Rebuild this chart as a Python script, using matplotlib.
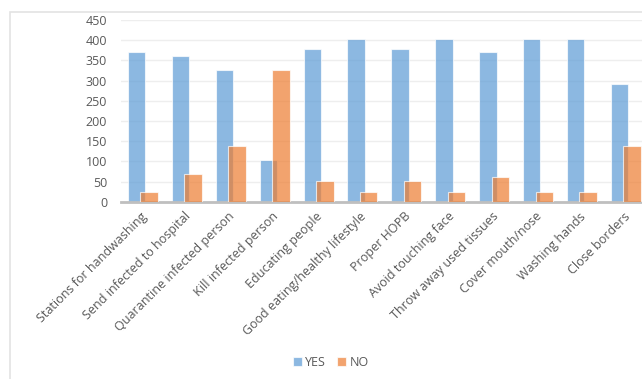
import numpy as np
import matplotlib
matplotlib.use('Agg')
import matplotlib.pyplot as plt
import matplotlib.transforms as mtransforms
from matplotlib.patches import Rectangle

categories = ['Stations for handwashing', 'Send infected to hospital',
              'Quarantine infected person', 'Kill infected person',
              'Educating people', 'Good eating/healthy lifestyle',
              'Proper HOPB', 'Avoid touching face', 'Throw away used tissues',
              'Cover mouth/nose', 'Washing hands', 'Close borders']
yes_vals = [370, 360, 327, 103, 378, 402, 378, 402, 370, 402, 402, 292]
no_vals = [25, 68, 138, 327, 51, 25, 51, 25, 60, 25, 25, 138]
yticks = [0, 50, 100, 150, 200, 250, 300, 350, 400, 450]

plt.rcParams['font.family'] = ['Open Sans', 'DejaVu Sans']

W, H = 642, 379
fig = plt.figure(figsize=(W / 100, H / 100), dpi=100)

# chart frame (cut off on the right and bottom like the screenshot)
fig.patches.append(Rectangle((10 / W, -0.05), 1.2, (H - 12) / H + 0.05,
                             transform=fig.transFigure, fill=False,
                             edgecolor='#e3e3e3', lw=1.2))

ax = fig.add_axes([121 / W, (H - 201.7) / H, 527 / W, 181.7 / H])
x = np.arange(len(categories))
grey = '#595959'

ax.bar(x - 0.146, yes_vals, width=0.395, color='#5B9BD5', alpha=0.7,
       edgecolor=(1, 1, 1, 0.5), lw=0.8, label='YES', zorder=2)
ax.bar(x + 0.14, no_vals, width=0.40, color='#ED7D31', alpha=0.7,
       edgecolor=(1, 1, 1, 0.5), lw=0.8, label='NO', zorder=3)

ax.set_xlim(-0.5, len(categories) - 0.5)
ax.set_ylim(0, 450)
ax.set_yticks(yticks)
ax.yaxis.grid(True, color='#eeeeee', lw=1)
ax.set_axisbelow(True)
for s in ['top', 'right', 'left']:
    ax.spines[s].set_visible(False)
ax.spines['bottom'].set_color('#bfbfbf')
ax.spines['bottom'].set_linewidth(2)
ax.tick_params(axis='both', length=0, colors=grey, labelsize=9)
ax.tick_params(axis='y', pad=10)
ax.set_xticks(x)
ax.set_xticklabels(categories, rotation=45, ha='right', va='top',
                   rotation_mode='anchor', color=grey, fontsize=9)
ax.tick_params(axis='x', pad=6)
shift = mtransforms.ScaledTranslation(-2 / 72, 0, fig.dpi_scale_trans)
for lab in ax.get_xticklabels():
    lab.set_transform(lab.get_transform() + shift)

handles, labels = ax.get_legend_handles_labels()
fig.legend(handles, labels, loc='center', bbox_to_anchor=(331 / W, (H - 362) / H),
           ncol=2, frameon=False, fontsize=9, labelcolor=grey,
           handlelength=0.7, handleheight=0.7, handletextpad=0.3,
           columnspacing=0.9)

fig.savefig('out.png', dpi=100)
